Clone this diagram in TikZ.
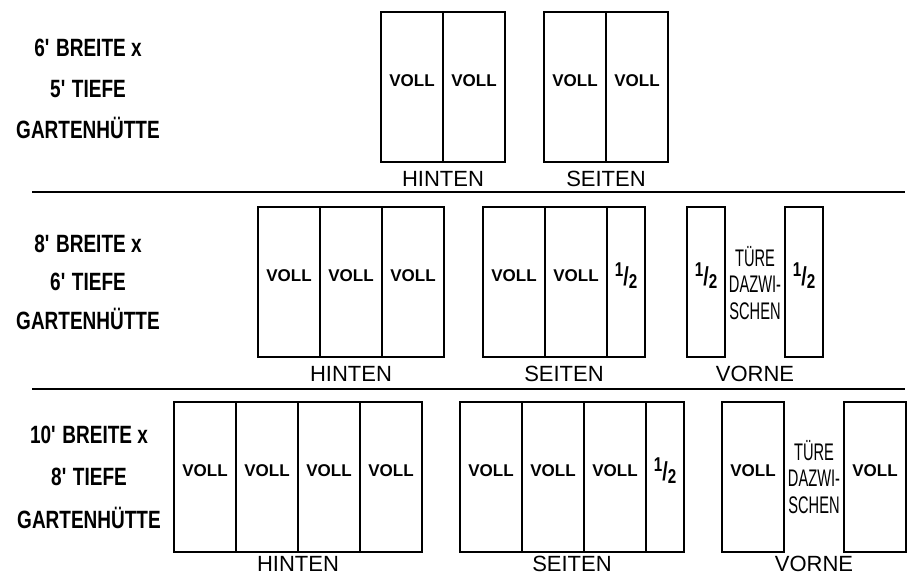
\documentclass[tikz,border=0pt]{standalone}
\usepackage{fontspec}
\setmainfont{Liberation Sans}
\newfontfamily\narrowfont{Liberation Sans}[FakeStretch=0.76]
\newfontfamily\doorfont{Liberation Sans}[FakeStretch=0.61]
\usetikzlibrary{calc, positioning}

% a large one-half mark for the half panels
\newcommand\halfmark{{\narrowfont\bfseries\fontsize{20}{20}\selectfont
    \raisebox{12pt}{1}\raisebox{3pt}{\fontsize{26}{26}\selectfont /}2}}

\begin{document}
\begin{tikzpicture}[
            x=1pt, y=-1pt,
            panel/.style={draw, line width=1.8pt, minimum width=62pt, minimum height=150pt,
                          inner sep=0pt, outer sep=0pt, text depth=12pt,
                          font=\bfseries\fontsize{17}{18}\selectfont},
            half/.style={panel, minimum width=38pt},
            lbl/.style={inner sep=0pt, anchor=north, font=\fontsize{22}{24}\selectfont},
            door/.style={align=center, inner sep=0pt, font=\doorfont\fontsize{24}{26.5}\selectfont},
            title/.style={align=center, inner sep=0pt,
                          font=\narrowfont\bfseries\fontsize{25}{41}\selectfont},
            rule/.style={line width=1.8pt}
        ]
        \useasboundingbox (0,0) rectangle (913,576);

        % --- 6' x 5' ---
        \node[title] (t1) at (88, 89)
            {6\textquotesingle{} BREITE x\\5\textquotesingle{} TIEFE\\GARTENHÜTTE};
        \node[panel, anchor=west] (h1a) at (381, 87) {VOLL};
        \node[panel, right=0pt of h1a] (h1b) {VOLL};
        \node[lbl, yshift=-9pt] (h1l) at (h1a.south east) {HINTEN};
        \node[panel, anchor=west] (s1a) at (544, 87) {VOLL};
        \node[panel, right=0pt of s1a] (s1b) {VOLL};
        \node[lbl, yshift=-9pt] (s1l) at (s1a.south east) {SEITEN};

        \draw[rule] (32,192) -- (905,192);

        % --- 8' x 6' ---
        \node[title] (t2) at (88, 282)
            {8\textquotesingle{} BREITE x\\[-2.5pt]6\textquotesingle{} TIEFE\\[-2.5pt]GARTENHÜTTE};
        \node[panel, anchor=west] (h2a) at (258, 282) {VOLL};
        \node[panel, right=0pt of h2a] (h2b) {VOLL};
        \node[panel, right=0pt of h2b] (h2c) {VOLL};
        \node[lbl, yshift=-9pt] (h2l) at (h2b.south) {HINTEN};
        \node[panel, anchor=west] (s2a) at (483, 282) {VOLL};
        \node[panel, right=0pt of s2a] (s2b) {VOLL};
        \node[half, right=0pt of s2b] (s2c) {\halfmark};
        \node[lbl, yshift=-9pt] (s2l) at ($(s2a.south west)!0.5!(s2c.south east)$) {SEITEN};
        % front: door in between
        \node[half, anchor=west] (v2a) at (687, 282) {\halfmark};
        \node[half, anchor=west] (v2b) at (785, 282) {\halfmark};
        \node[door] (d2) at ($(v2a.east)!0.5!(v2b.west)+(0,1)$) {TÜRE\\DAZWI-\\SCHEN};
        \node[lbl, yshift=-9pt] (v2l) at ($(v2a.south west)!0.5!(v2b.south east)$) {VORNE};

        \draw[rule] (32,389) -- (905,389);

        % --- 10' x 8' ---
        \node[title] (t3) at (89, 477)
            {10\textquotesingle{} BREITE x\\[1.5pt]8\textquotesingle{} TIEFE\\[1.5pt]GARTENHÜTTE};
        \node[panel, anchor=west] (h3a) at (174, 477) {VOLL};
        \node[panel, right=0pt of h3a] (h3b) {VOLL};
        \node[panel, right=0pt of h3b] (h3c) {VOLL};
        \node[panel, right=0pt of h3c] (h3d) {VOLL};
        \node[lbl, yshift=-4pt] (h3l) at (h3b.south east) {HINTEN};
        \node[panel, anchor=west] (s3a) at (460, 477) {VOLL};
        \node[panel, right=0pt of s3a] (s3b) {VOLL};
        \node[panel, right=0pt of s3b] (s3c) {VOLL};
        \node[half, right=0pt of s3c] (s3d) {\halfmark};
        \node[lbl, yshift=-4pt] (s3l) at ($(s3a.south west)!0.5!(s3d.south east)$) {SEITEN};
        % front: door in between
        \node[panel, anchor=west] (v3a) at (722, 477) {VOLL};
        \node[panel, anchor=west] (v3b) at (844, 477) {VOLL};
        \node[door] (d3) at ($(v3a.east)!0.5!(v3b.west)$) {TÜRE\\DAZWI-\\SCHEN};
        \node[lbl, yshift=-4pt] (v3l) at ($(v3a.south west)!0.5!(v3b.south east)$) {VORNE};
\end{tikzpicture}
\end{document}
